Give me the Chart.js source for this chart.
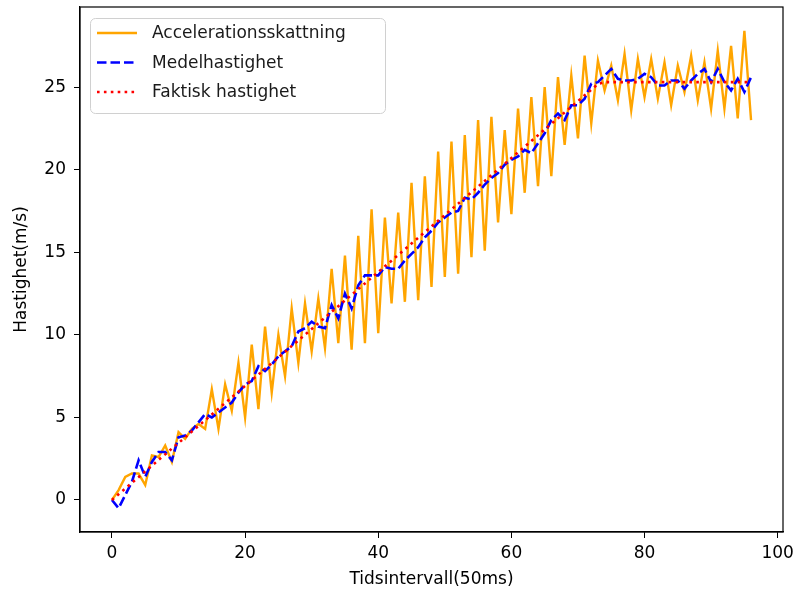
<!DOCTYPE html>
<html>
<head>
<meta charset="utf-8">
<script src="https://cdn.jsdelivr.net/npm/chart.js@4/dist/chart.umd.min.js"></script>
<style>
  html, body { margin: 0; padding: 0; background: #fff; }
  #c { display: block; }
</style>
</head>
<body>
<canvas id="c" width="797" height="594"></canvas>
<script>
// values, one per 50 ms step (0..96)
const accEstimate = [
  0, 0.6, 1.4, 1.6, 1.6, 0.9, 2.7, 2.6, 3.3, 2.3,
  4.1, 3.7, 4.3, 4.6, 4.3, 6.7, 4.3, 7.0, 5.4, 8.3,
  5.0, 9.4, 5.5, 10.5, 6.5, 10.0, 7.5, 11.6, 8.3, 11.9,
  9.0, 12.2, 9.2, 14.0, 9.5, 14.8, 9.1, 16.0, 9.5, 17.6,
  10.1, 17.1, 11.9, 17.4, 12.0, 19.2, 12.1, 19.6, 12.9, 21.1,
  13.5, 21.7, 13.7, 22.1, 14.7, 23.0, 15.1, 23.2, 16.8, 22.4,
  17.3, 23.7, 18.6, 24.4, 19.0, 25.0, 19.6, 25.6, 21.5, 25.7,
  21.9, 26.9, 22.8, 26.6, 24.8, 26.3, 24.2, 27.0, 23.6, 26.7,
  24.4, 26.7, 24.3, 26.5, 23.9, 26.3, 24.7, 26.9, 24.2, 26.5,
  23.7, 27.2, 23.7, 27.5, 23.1, 28.4, 23.0,
];
const meanSpeed = [
  0, -0.5, 0.3, 1.1, 2.4, 1.4, 2.3, 2.9, 2.9, 2.4,
  3.8, 3.9, 4.2, 4.7, 5.2, 5.0, 5.3, 5.6, 5.9, 6.5,
  7.0, 7.2, 8.1, 7.8, 8.2, 8.7, 9.0, 9.3, 10.2, 10.4,
  10.8, 10.5, 10.4, 11.8, 11.0, 12.5, 11.6, 13.0, 13.6, 13.6,
  13.6, 14.1, 14.0, 14.0, 14.5, 14.9, 15.3, 15.9, 16.3, 16.8,
  17.1, 17.4, 17.5, 18.3, 18.2, 18.6, 19.1, 19.5, 19.8, 20.3,
  20.6, 20.8, 21.2, 21.0, 21.6, 22.2, 23.0, 23.4, 23.0, 23.9,
  23.9, 24.3, 25.2, 25.3, 25.7, 26.1, 25.5, 25.4, 25.4, 25.5,
  25.8, 25.6, 25.1, 25.1, 25.4, 25.4, 24.9, 25.4, 25.8, 26.1,
  25.3, 26.1, 25.3, 24.8, 25.5, 24.7, 25.6,
];
const actualSpeed = [
  0, 0.35, 0.69, 1.04, 1.38, 1.73, 2.07, 2.42, 2.76, 3.11,
  3.45, 3.8, 4.14, 4.49, 4.83, 5.18, 5.52, 5.87, 6.21, 6.56,
  6.9, 7.25, 7.59, 7.94, 8.28, 8.63, 8.97, 9.32, 9.66, 10.01,
  10.35, 10.7, 11.04, 11.39, 11.73, 12.08, 12.42, 12.77, 13.11, 13.46,
  13.8, 14.15, 14.49, 14.84, 15.18, 15.53, 15.87, 16.22, 16.56, 16.91,
  17.25, 17.6, 17.94, 18.29, 18.63, 18.98, 19.32, 19.67, 20.01, 20.36,
  20.7, 21.05, 21.39, 21.74, 22.08, 22.43, 22.77, 23.12, 23.46, 23.81,
  24.15, 24.5, 24.84, 25.19, 25.3, 25.3, 25.3, 25.3, 25.3, 25.3,
  25.3, 25.3, 25.3, 25.3, 25.3, 25.3, 25.3, 25.3, 25.3, 25.3,
  25.3, 25.3, 25.3, 25.3, 25.3, 25.3, 25.3,
];
const xTicks = [0, 20, 40, 60, 80, 100];
const yTicks = [0, 5, 10, 15, 20, 25];
const steps = accEstimate.map((_, i) => i);

const FONT = 'DejaVu Sans, Verdana, sans-serif';
Chart.defaults.font.family = FONT;
Chart.defaults.font.size = 17;
Chart.defaults.color = '#000';

// matplotlib-style closed frame + boxed legend in the upper left
const frame = {
  id: 'frame',
  afterDraw(chart) {
    const { ctx, chartArea: a } = chart;
    ctx.save();
    ctx.strokeStyle = '#000';
    ctx.lineWidth = 1.2;
    ctx.strokeRect(a.left, a.top, a.right - a.left, a.bottom - a.top);

    const bx = 90, by = 18, bw = 295, bh = 95, r = 5;
    ctx.beginPath();
    ctx.roundRect(bx + 0.5, by + 0.5, bw, bh, r);
    ctx.fillStyle = 'rgba(255,255,255,0.8)';
    ctx.fill();
    ctx.strokeStyle = '#d0d0d0';
    ctx.lineWidth = 1;
    ctx.stroke();

    ctx.font = `17px ${FONT}`;
    ctx.textBaseline = 'middle';
    chart.data.datasets.forEach((ds, i) => {
      const y = 33 + i * 29.5;
      ctx.beginPath();
      ctx.setLineDash(ds.borderDash || []);
      ctx.strokeStyle = ds.borderColor;
      ctx.lineWidth = ds.borderWidth;
      ctx.moveTo(97, y);
      ctx.lineTo(137, y);
      ctx.stroke();
      ctx.setLineDash([]);
      ctx.fillStyle = '#1a1a1a';
      ctx.fillText(ds.label, 152, y + 1);
    });
    ctx.restore();
  },
};

const keepTicks = list => scale => {
  scale.ticks = scale.ticks.filter(t => list.includes(t.value));
};

new Chart(document.getElementById('c'), {
  type: 'line',
  data: {
    labels: steps,
    datasets: [
      { label: 'Accelerationsskattning', data: accEstimate, borderColor: '#ffa500', borderWidth: 2.4, order: 3 },
      { label: 'Medelhastighet', data: meanSpeed, borderColor: '#0000ff', borderWidth: 2.6, borderDash: [9.5, 4], order: 2 },
      { label: 'Faktisk hastighet', data: actualSpeed, borderColor: '#ff0000', borderWidth: 2.6, borderDash: [2.6, 4.3], order: 1 },
    ],
  },
  options: {
    responsive: false,
    animation: false,
    elements: { point: { radius: 0 }, line: { tension: 0, borderCapStyle: 'butt' } },
    layout: { padding: { left: 0, right: 14, top: 7, bottom: 0 } },
    plugins: { legend: { display: false }, tooltip: { enabled: false } },
    scales: {
      x: {
        type: 'linear',
        min: -4.8,
        max: 100.8,
        afterFit: s => { s.height = 62; s.paddingLeft = 0; s.paddingRight = 0; },
        afterBuildTicks: keepTicks(xTicks),
        ticks: { stepSize: 20, includeBounds: false, padding: 5, maxRotation: 0 },
        grid: { drawOnChartArea: false, drawTicks: true, tickLength: 6, color: '#000' },
        border: { color: '#000', width: 1.2 },
        title: { display: true, text: 'Tidsintervall(50ms)', padding: { top: 0, bottom: 4 } },
      },
      y: {
        min: -1.94,
        max: 29.85,
        afterFit: s => { s.width = 80; s.paddingTop = 0; s.paddingBottom = 0; },
        afterBuildTicks: keepTicks(yTicks),
        ticks: { stepSize: 5, includeBounds: false, padding: 8 },
        grid: { drawOnChartArea: false, drawTicks: true, tickLength: 6, color: '#000' },
        border: { color: '#000', width: 1.2 },
        title: { display: true, text: 'Hastighet(m/s)', padding: { top: 11, bottom: 0 } },
      },
    },
  },
  plugins: [frame],
});
</script>
</body>
</html>
